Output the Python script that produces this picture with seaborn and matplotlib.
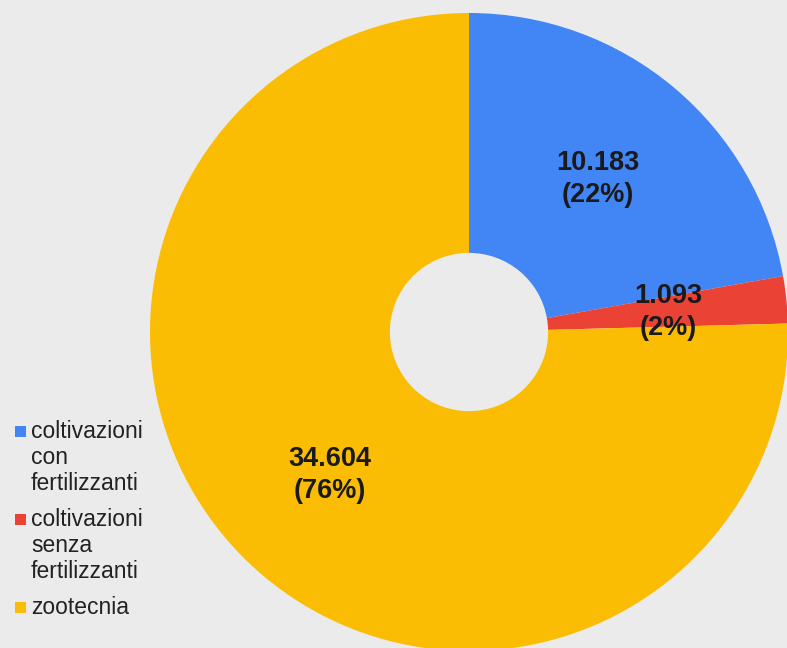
import matplotlib
matplotlib.use("Agg")
import matplotlib.pyplot as plt
import matplotlib.patches as mpatches
import seaborn as sns

# ---- data ----
categories = ["coltivazioni con fertilizzanti", "coltivazioni senza fertilizzanti", "zootecnia"]
legend_lines = [["coltivazioni", "con", "fertilizzanti"],
                ["coltivazioni", "senza", "fertilizzanti"],
                ["zootecnia"]]
values = [10183, 1093, 34604]
value_labels = ["10.183", "1.093", "34.604"]
pct_labels = ["22%", "2%", "76%"]
colors = ["#4285F4", "#EA4335", "#FBBC04"]

sns.set_theme(style="white")
plt.rcParams["font.family"] = ["Liberation Sans", "DejaVu Sans"]

BG = "#EBEBEB"
W, H = 787, 648
fig = plt.figure(figsize=(W / 100, H / 100), dpi=100, facecolor=BG)

# pie axes: centre (469, 332) px, radius 319 px
cx, cy, R = 469, 332, 319
ax = fig.add_axes([(cx - R) / W, (H - cy - R) / H, 2 * R / W, 2 * R / H])
ax.set_facecolor(BG)

palette = sns.color_palette(colors)
wedges, texts, autotexts = ax.pie(
    values,
    colors=palette,
    startangle=90,
    counterclock=False,
    radius=1.0,
    wedgeprops=dict(width=0.752, linewidth=0),
    autopct="%d",
    pctdistance=0.627,
    textprops=dict(fontsize=19.5, fontweight="bold", color="#1a1a1a"),
)
for t, v, p in zip(autotexts, value_labels, pct_labels):
    t.set_text(f"{v}\n({p})")
    t.set_linespacing(1.3)
    t.set_ha("center")
    t.set_va("center")
ax.set_xlim(-1, 1)
ax.set_ylim(-1, 1)
ax.set_aspect("equal")
ax.axis("off")

# ---- legend (manual, to match wrapped entries) ----
line_h = 26
entry_gap = 10
baseline = 438
for lines, col in zip(legend_lines, colors):
    sq = mpatches.Rectangle((15 / W, 1 - (baseline - 1) / H), 10.5 / W, 11.5 / H,
                            transform=fig.transFigure, facecolor=col,
                            edgecolor="none")
    fig.patches.append(sq)
    for i, ln in enumerate(lines):
        fig.text(31 / W, 1 - (baseline + i * line_h) / H, ln,
                 fontsize=16.5, color="#222222", ha="left", va="baseline")
    baseline += len(lines) * line_h + entry_gap

fig.savefig("out.png", dpi=100, facecolor=BG)
